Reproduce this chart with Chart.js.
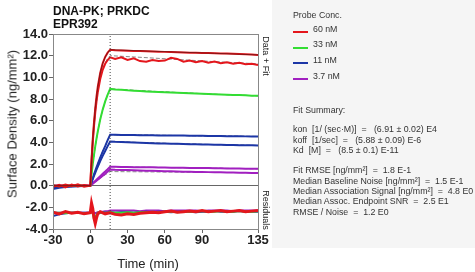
<!DOCTYPE html>
<html>
<head>
<meta charset="utf-8">
<script src="https://cdn.jsdelivr.net/npm/chart.js@4"></script>
<style>
  body { margin: 0; background: #fff; font-family: "Liberation Sans", Arial, sans-serif; }
  #wrap { position: relative; width: 475px; height: 272px; overflow: hidden; }
  #panel { position: absolute; left: 272px; top: 0; width: 203px; height: 248px; background: #f5f5f5; }
  canvas { position: absolute; left: 0; top: 0; }
  .t { position: absolute; white-space: pre; color: #333; font-size: 8.8px; line-height: 10px; }
  .sw { position: absolute; left: 293px; width: 15px; height: 2px; }
  #title { position: absolute; left: 53px; top: 5px; font-weight: bold; font-size: 12px; line-height: 12.5px; color: #111; }
  .rot { position: absolute; white-space: pre; color: #222; }
</style>
</head>
<body>
<div id="wrap">
  <div id="panel"></div>
  <canvas id="chart" width="272" height="272"></canvas>
  <div id="title">DNA-PK; PRKDC<br>EPR392</div>
  <div class="rot" style="font-size:13px;left:12px;top:124px;transform:translate(-50%,-50%) rotate(-90deg);">Surface Density (ng/mm²)</div>
  <div class="rot" style="font-size:13px;left:148px;top:263px;transform:translate(-50%,-50%);">Time (min)</div>
  <div class="rot" style="font-size:9px;left:266px;top:56px;transform:translate(-50%,-50%) rotate(90deg);">Data + Fit</div>
  <div class="rot" style="font-size:9px;left:266px;top:210px;transform:translate(-50%,-50%) rotate(90deg);">Residuals</div>

  <div class="t" style="left:293px;top:10px;">Probe Conc.</div>
  <div class="sw" style="top:31px;background:#e4161c;"></div>
  <div class="t" style="left:313px;top:24px;">60 nM</div>
  <div class="sw" style="top:47px;background:#33dd33;"></div>
  <div class="t" style="left:313px;top:39px;">33 nM</div>
  <div class="sw" style="top:62px;background:#1c36a6;"></div>
  <div class="t" style="left:313px;top:55px;">11 nM</div>
  <div class="sw" style="top:78px;background:#a11fc0;"></div>
  <div class="t" style="left:313px;top:71px;">3.7 nM</div>

  <div class="t" style="left:293px;top:105px;">Fit Summary:</div>
  <div class="t" style="left:293px;top:124px;">kon  [1/ (sec·M)]  =   (6.91 ± 0.02) E4</div>
  <div class="t" style="left:293px;top:135px;">koff  [1/sec]  =   (5.88 ± 0.09) E-6</div>
  <div class="t" style="left:293px;top:145px;">Kd  [M]  =   (8.5 ± 0.1) E-11</div>
  <div class="t" style="left:293px;top:165px;">Fit RMSE [ng/mm²]  =  1.8 E-1</div>
  <div class="t" style="left:293px;top:176px;">Median Baseline Noise [ng/mm²]  =  1.5 E-1</div>
  <div class="t" style="left:293px;top:186px;">Median Association Signal [ng/mm²]  =  4.8 E0</div>
  <div class="t" style="left:293px;top:196px;">Median Assoc. Endpoint SNR  =  2.5 E1</div>
  <div class="t" style="left:293px;top:207px;">RMSE / Noise  =  1.2 E0</div>
</div>
<script>
// sample times (min)
const times = [-30,-25,-20,-15,-10,-5,0,1,2,3,4,5,6,8,10,12,14,16,
  20,25,30,35,40,45,50,55,60,65,70,75,80,85,90,95,100,105,110,115,120,125,130,135];

const red1 = [0.05,-0.08,0.1,-0.05,0.12,-0.1,0.0,
  2.35,4.27,5.85,7.14,8.22,9.09,10.4,11.29,11.88,12.28,12.55,
  12.5,12.48,12.45,12.43,12.42,12.4,12.38,12.36,12.35,12.33,12.32,12.3,12.28,12.27,12.25,12.24,12.22,12.2,12.19,12.17,12.15,12.12,12.1,12.07];
const red2 = [-0.1,0.08,-0.15,0.1,-0.08,0.05,0.0,
  2.2,4.0,5.5,6.75,7.75,8.6,9.85,10.7,11.25,11.6,11.85,
  11.7,11.85,11.6,11.75,11.5,11.45,11.6,11.5,11.55,11.8,11.7,11.45,11.55,11.4,11.5,11.35,11.45,11.3,11.4,11.25,11.35,11.2,11.25,11.14];
const green = [0.02,-0.05,0.04,-0.02,0.05,-0.03,0.0,
  1.04,1.99,2.85,3.63,4.33,4.98,6.1,7.02,7.78,8.4,8.93,
  8.88,8.85,8.8,8.77,8.74,8.7,8.67,8.64,8.62,8.6,8.57,8.55,8.52,8.5,8.48,8.46,8.44,8.42,8.4,8.38,8.36,8.34,8.31,8.29];
const blue1 = [-0.2,-0.12,-0.08,-0.05,-0.03,-0.02,0.0,
  0.35,0.7,1.04,1.37,1.68,2.0,2.6,3.15,3.65,4.2,4.7,
  4.69,4.68,4.68,4.67,4.66,4.66,4.65,4.64,4.64,4.63,4.62,4.62,4.61,4.6,4.6,4.59,4.58,4.58,4.57,4.57,4.56,4.55,4.55,4.54];
const blue2 = [-0.3,-0.2,-0.12,-0.08,-0.05,-0.02,0.0,
  0.3,0.6,0.9,1.19,1.47,1.74,2.26,2.75,3.2,3.65,4.08,
  4.05,4.03,4.0,3.98,3.96,3.94,3.92,3.9,3.89,3.87,3.86,3.84,3.83,3.82,3.8,3.79,3.78,3.77,3.76,3.75,3.74,3.73,3.72,3.71];
const purple1 = [0.02,0.0,-0.02,0.01,0.0,0.02,0.0,
  0.11,0.22,0.33,0.44,0.55,0.66,0.88,1.1,1.3,1.52,1.75,
  1.74,1.73,1.72,1.71,1.7,1.7,1.69,1.68,1.67,1.66,1.66,1.65,1.64,1.63,1.62,1.62,1.61,1.6,1.59,1.59,1.58,1.57,1.56,1.55];
const purple2 = [-0.03,0.02,0.0,-0.02,0.01,0.0,0.0,
  0.09,0.18,0.27,0.36,0.46,0.55,0.73,0.92,1.1,1.3,1.5,
  1.47,1.45,1.44,1.42,1.4,1.38,1.37,1.35,1.33,1.32,1.3,1.29,1.28,1.27,1.26,1.25,1.24,1.23,1.22,1.21,1.2,1.19,1.18,1.17];

// fit curves
const fitTimes = [-30,0,2,4,6,8,10,12,14,16,40,70,100,135];
const fitRed1 = [0,0,4.27,7.14,9.09,10.4,11.29,11.88,12.28,12.55,12.45,12.33,12.22,12.07];
const fitRed2 = [0,0,4.1,6.8,8.65,9.9,10.8,11.35,11.75,12.0,11.85,11.65,11.45,11.25];
const fitGreen = [0,0,1.99,3.63,4.98,6.1,7.02,7.78,8.4,8.93,8.77,8.6,8.44,8.29];
const fitBlue1 = [0,0,0.7,1.37,2.0,2.6,3.15,3.65,4.2,4.7,4.67,4.63,4.59,4.54];
const fitBlue2 = [0,0,0.6,1.19,1.74,2.26,2.75,3.2,3.65,4.08,3.98,3.87,3.79,3.71];
const fitPurple1 = [0,0,0.22,0.44,0.66,0.88,1.1,1.3,1.52,1.75,1.71,1.66,1.62,1.55];
const fitPurple2 = [0,0,0.17,0.34,0.51,0.68,0.85,1.0,1.15,1.3,1.28,1.25,1.22,1.2];

// residuals (drawn offset in the lower panel)
const resRed = [-2.45,-2.6,-2.4,-2.55,-2.45,-2.6,-2.5,
  -1.6,-2.1,-3.0,-3.5,-3.0,-2.6,-2.4,-2.5,-2.6,-2.55,-2.5,
  -2.65,-2.7,-2.6,-2.65,-2.55,-2.5,-2.45,-2.5,-2.4,-2.35,-2.45,-2.4,-2.35,-2.4,-2.3,-2.4,-2.35,-2.3,-2.4,-2.35,-2.3,-2.4,-2.35,-2.3];
const resGreen = [-2.5,-2.5,-2.55,-2.5,-2.5,-2.55,-2.5,
  -2.2,-2.6,-3.1,-3.0,-2.7,-2.5,-2.45,-2.5,-2.5,-2.5,-2.45,
  -2.5,-2.5,-2.45,-2.5,-2.45,-2.45,-2.4,-2.45,-2.4,-2.4,-2.45,-2.4,-2.4,-2.4,-2.35,-2.4,-2.4,-2.35,-2.4,-2.4,-2.35,-2.4,-2.4,-2.35];
const resBlue = [-2.8,-2.65,-2.55,-2.5,-2.5,-2.5,-2.5,
  -2.0,-2.3,-2.7,-2.9,-2.8,-2.6,-2.5,-2.45,-2.5,-2.5,-2.45,
  -2.5,-2.45,-2.45,-2.5,-2.45,-2.4,-2.45,-2.4,-2.4,-2.45,-2.4,-2.4,-2.4,-2.45,-2.4,-2.4,-2.35,-2.4,-2.4,-2.4,-2.35,-2.4,-2.4,-2.4];
const resPurple = [-2.5,-2.5,-2.5,-2.5,-2.5,-2.5,-2.5,
  -2.3,-2.4,-2.5,-2.55,-2.5,-2.45,-2.4,-2.4,-2.35,-2.35,-2.3,
  -2.3,-2.3,-2.3,-2.3,-2.35,-2.3,-2.3,-2.3,-2.35,-2.3,-2.3,-2.3,-2.3,-2.3,-2.35,-2.3,-2.3,-2.3,-2.3,-2.35,-2.3,-2.3,-2.3,-2.3];

const xTicks = [-30, 0, 30, 60, 90, 135];
const injectionEnd = 16;

const RED = '#e4161c', GREEN = '#33dd33', BLUE = '#1c36a6', PURPLE = '#a11fc0';

function pts(xs, ys) { return ys.map((y, i) => ({ x: xs[i], y: y })); }
function line(data, color, width, dash) {
  return { data: data, borderColor: color, borderWidth: width, borderDash: dash || [], pointRadius: 0, fill: false, tension: 0 };
}

// first dataset is drawn on top
const datasets = [
  line([{ x: injectionEnd, y: -4 }, { x: injectionEnd, y: 14 }], '#444', 1, [1, 2]),
  line(pts(fitTimes, fitRed1), '#6a1414', 0.8),
  line(pts(times, red1), RED, 2),
  line(pts(times, red2), RED, 2),
  line(pts(times, green), GREEN, 2),
  line(pts(times, blue1), BLUE, 2),
  line(pts(times, blue2), BLUE, 2),
  line(pts(times, purple1), PURPLE, 2),
  line(pts(times, purple2), PURPLE, 2),
  line(pts(fitTimes, fitRed2), '#888', 1, [4, 2]),
  line(pts(fitTimes, fitGreen), '#555', 1, [4, 2]),
  line(pts(fitTimes, fitBlue1), '#333', 1, [4, 2]),
  line(pts(fitTimes, fitBlue2), '#333', 1, [4, 2]),
  line(pts(fitTimes, fitPurple1), '#888', 1, [4, 2]),
  line(pts(fitTimes, fitPurple2), '#888', 1, [4, 2]),
  line(pts(times, resRed), RED, 3),
  line(pts(times, resGreen), GREEN, 2),
  line(pts(times, resBlue), BLUE, 2),
  line(pts(times, resPurple), PURPLE, 2)
];

const frame = {
  id: 'frame',
  afterDraw(chart) {
    const a = chart.chartArea, ctx = chart.ctx;
    ctx.save();
    ctx.strokeStyle = '#888';
    ctx.lineWidth = 1;
    ctx.strokeRect(a.left + 0.5, a.top + 0.5, a.right - a.left, a.bottom - a.top);
    ctx.restore();
  }
};

const tickFont = { family: '"Liberation Sans", Arial, sans-serif', size: 13, weight: 'bold' };

new Chart(document.getElementById('chart'), {
  type: 'line',
  data: { datasets: datasets },
  options: {
    responsive: false,
    animation: false,
    devicePixelRatio: 1,
    layout: { padding: { top: 34, right: 14, left: 0, bottom: 0 } },
    plugins: { legend: { display: false }, tooltip: { enabled: false } },
    scales: {
      x: {
        type: 'linear', min: -30, max: 135,
        afterBuildTicks: s => { s.ticks = xTicks.map(v => ({ value: v })); },
        afterFit: s => { s.height = 43; },
        grid: { drawOnChartArea: false, tickLength: 4, tickColor: '#666' },
        border: { color: '#777' },
        ticks: { font: tickFont, color: '#222', padding: 0, maxRotation: 0, autoSkip: false }
      },
      y: {
        min: -4, max: 14,
        afterFit: s => { s.width = 53; },
        grid: {
          color: c => (c.tick && c.tick.value === 0) ? '#666' : 'rgba(0,0,0,0)',
          tickLength: 4, tickColor: '#666'
        },
        border: { color: '#777' },
        ticks: { stepSize: 2, font: tickFont, color: '#222', padding: 1, callback: v => v.toFixed(1) }
      }
    }
  },
  plugins: [frame]
});
</script>
</body>
</html>
